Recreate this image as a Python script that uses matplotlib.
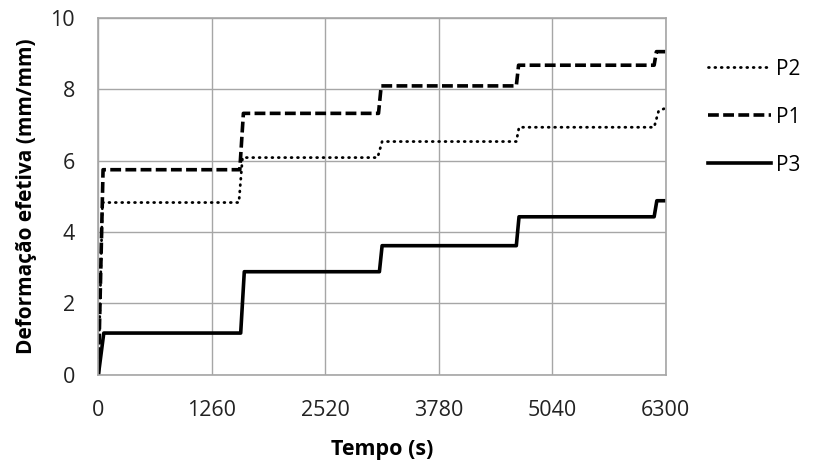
import matplotlib.pyplot as plt

# Tempo (s) e deformação efetiva (mm/mm)
t_p2 = [0, 45, 1560, 1600, 3100, 3150, 4640, 4670, 6170, 6220, 6300]
y_p2 = [0, 4.83, 4.83, 6.09, 6.09, 6.54, 6.54, 6.94, 6.94, 7.40, 7.48]

t_p1 = [0, 52, 1570, 1610, 3110, 3140, 4640, 4665, 6170, 6195, 6300]
y_p1 = [0, 5.75, 5.75, 7.33, 7.33, 8.10, 8.10, 8.68, 8.68, 9.06, 9.06]

t_p3 = [0, 60, 1580, 1620, 3120, 3150, 4640, 4670, 6170, 6200, 6300]
y_p3 = [0, 1.17, 1.17, 2.89, 2.89, 3.62, 3.62, 4.43, 4.43, 4.88, 4.88]

x_ticks = [0, 1260, 2520, 3780, 5040, 6300]
y_ticks = [0, 2, 4, 6, 8, 10]

plt.rcParams['font.family'] = ['Open Sans', 'DejaVu Sans']

fig = plt.figure(figsize=(8.13, 4.65), dpi=100)
ax = fig.add_axes([0.121, 0.194, 0.698, 0.767])

ax.plot(t_p2, y_p2, color='black', lw=2.0, linestyle=(0, (0.3, 2.0)),
        dash_capstyle='round', label='P2')
ax.plot(t_p1, y_p1, color='black', lw=2.6, linestyle=(0, (3.0, 1.2)), label='P1')
ax.plot(t_p3, y_p3, color='black', lw=2.6, label='P3')

ax.set_xlim(0, 6300)
ax.set_ylim(0, 10)
ax.set_xticks(x_ticks)
ax.set_yticks(y_ticks)
ax.tick_params(axis='x', length=0, labelsize=15.5, pad=18, colors='#222222')
ax.tick_params(axis='y', length=0, labelsize=15.5, pad=17, colors='#222222')
ax.grid(True, color='#a6a6a6', lw=1)
ax.set_axisbelow(True)
for s in ax.spines.values():
    s.set_color('#a6a6a6')
    s.set_linewidth(1.2)

ax.set_xlabel('Tempo (s)', fontsize=15.5, fontweight='bold')
ax.set_ylabel('Deformação efetiva (mm/mm)', fontsize=15, fontweight='bold')
ax.xaxis.set_label_coords(0.5, -0.18)
ax.yaxis.set_label_coords(-0.108, 0.5)

ax.legend(loc='upper left', bbox_to_anchor=(708 / 813, 0.874),
          bbox_transform=fig.transFigure, frameon=False, borderpad=0,
          borderaxespad=0, fontsize=15, handlelength=3.0, handletextpad=0.25,
          labelspacing=1.3)

fig.savefig('out.png', dpi=100)
